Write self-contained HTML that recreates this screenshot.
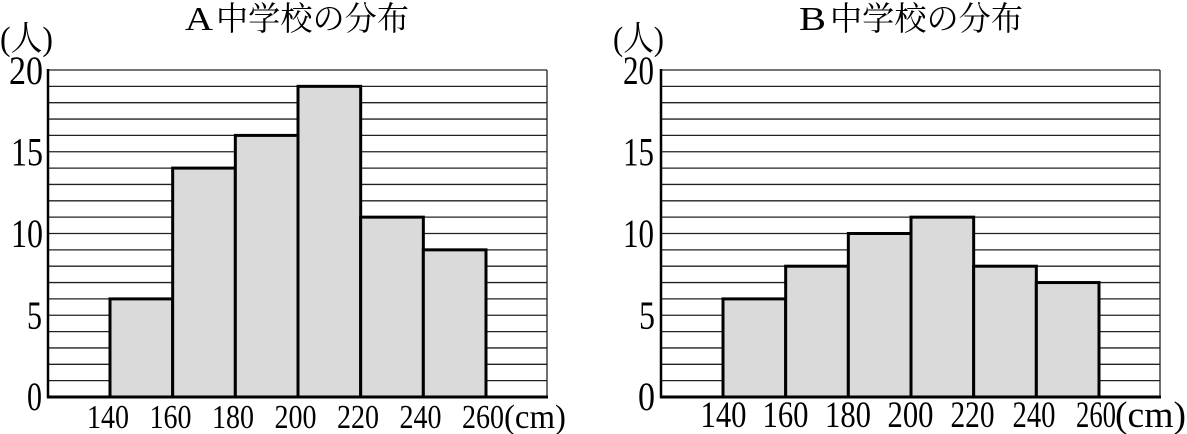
<!DOCTYPE html>
<html>
<head>
<meta charset="utf-8">
<style>
html,body{margin:0;padding:0;background:#fff;}
svg{display:block;}
</style>
</head>
<body>
<svg width="1187" height="434" viewBox="0 0 1187 434" xmlns="http://www.w3.org/2000/svg">
  <rect width="1187" height="434" fill="#fff"/>

  <!-- ===== Chart A ===== -->
  <g>
    <text x="185" y="30" font-family="Liberation Serif, serif" font-size="34" textLength="28" lengthAdjust="spacingAndGlyphs">A</text>
    <text x="216" y="30" font-family="Noto Serif CJK SC, Noto Sans CJK JP, serif" font-size="33" textLength="193" lengthAdjust="spacingAndGlyphs">中学校の分布</text>
    <text x="0" y="50" font-family="Liberation Serif, Noto Serif CJK SC, serif" font-size="34" textLength="53" lengthAdjust="spacingAndGlyphs">(人)</text>

    <g stroke="#222" stroke-width="1.3">
      <line x1="48" x2="547" y1="70" y2="70"/>
      <line x1="48" x2="547" y1="86.35" y2="86.35"/>
      <line x1="48" x2="547" y1="102.7" y2="102.7"/>
      <line x1="48" x2="547" y1="119.05" y2="119.05"/>
      <line x1="48" x2="547" y1="135.4" y2="135.4"/>
      <line x1="48" x2="547" y1="151.75" y2="151.75"/>
      <line x1="48" x2="547" y1="168.1" y2="168.1"/>
      <line x1="48" x2="547" y1="184.45" y2="184.45"/>
      <line x1="48" x2="547" y1="200.8" y2="200.8"/>
      <line x1="48" x2="547" y1="217.15" y2="217.15"/>
      <line x1="48" x2="547" y1="233.5" y2="233.5"/>
      <line x1="48" x2="547" y1="249.85" y2="249.85"/>
      <line x1="48" x2="547" y1="266.2" y2="266.2"/>
      <line x1="48" x2="547" y1="282.55" y2="282.55"/>
      <line x1="48" x2="547" y1="298.9" y2="298.9"/>
      <line x1="48" x2="547" y1="315.25" y2="315.25"/>
      <line x1="48" x2="547" y1="331.6" y2="331.6"/>
      <line x1="48" x2="547" y1="347.95" y2="347.95"/>
      <line x1="48" x2="547" y1="364.3" y2="364.3"/>
      <line x1="48" x2="547" y1="380.65" y2="380.65"/>
      <line x1="547" x2="547" y1="70" y2="397"/>
    </g>

    <g fill="#dadada" stroke="#000" stroke-width="3">
      <rect x="110" y="298.9" width="62.67" height="98.1"/>
      <rect x="172.67" y="168.1" width="62.67" height="228.9"/>
      <rect x="235.33" y="135.4" width="62.67" height="261.6"/>
      <rect x="298" y="86.35" width="62.67" height="310.65"/>
      <rect x="360.67" y="217.15" width="62.67" height="179.85"/>
      <rect x="423.33" y="249.85" width="62.67" height="147.15"/>
    </g>

    <line x1="48" x2="48" y1="69" y2="398" stroke="#000" stroke-width="2.5"/>
    <line x1="47" x2="548" y1="397" y2="397" stroke="#000" stroke-width="3"/>

    <g font-family="Liberation Serif, serif" font-size="40" text-anchor="end" fill="#000">
      <text x="43" y="84" textLength="34" lengthAdjust="spacingAndGlyphs">20</text>
      <text x="43" y="165.5" textLength="32" lengthAdjust="spacingAndGlyphs">15</text>
      <text x="43" y="247" textLength="32" lengthAdjust="spacingAndGlyphs">10</text>
      <text x="42" y="329" textLength="15" lengthAdjust="spacingAndGlyphs">5</text>
      <text x="42" y="410" textLength="15" lengthAdjust="spacingAndGlyphs">0</text>
    </g>

    <g font-family="Liberation Serif, serif" font-size="34" text-anchor="middle" fill="#000">
      <text x="108" y="428" textLength="42" lengthAdjust="spacingAndGlyphs">140</text>
      <text x="170.5" y="428" textLength="42" lengthAdjust="spacingAndGlyphs">160</text>
      <text x="233" y="428" textLength="42" lengthAdjust="spacingAndGlyphs">180</text>
      <text x="295.5" y="428" textLength="42" lengthAdjust="spacingAndGlyphs">200</text>
      <text x="358" y="428" textLength="42" lengthAdjust="spacingAndGlyphs">220</text>
      <text x="420.5" y="428" textLength="42" lengthAdjust="spacingAndGlyphs">240</text>
      <text x="483" y="428" textLength="42" lengthAdjust="spacingAndGlyphs">260</text>
    </g>
    <text x="504" y="428" font-family="Liberation Serif, serif" font-size="34" textLength="62" lengthAdjust="spacingAndGlyphs">(cm)</text>
  </g>

  <!-- ===== Chart B ===== -->
  <g>
    <text x="799" y="30" font-family="Liberation Serif, serif" font-size="34" textLength="27" lengthAdjust="spacingAndGlyphs">B</text>
    <text x="830" y="30" font-family="Noto Serif CJK SC, Noto Sans CJK JP, serif" font-size="33" textLength="193" lengthAdjust="spacingAndGlyphs">中学校の分布</text>
    <text x="613" y="50" font-family="Liberation Serif, Noto Serif CJK SC, serif" font-size="34" textLength="51" lengthAdjust="spacingAndGlyphs">(人)</text>

    <g stroke="#222" stroke-width="1.3">
      <line x1="661" x2="1160" y1="70" y2="70"/>
      <line x1="661" x2="1160" y1="86.35" y2="86.35"/>
      <line x1="661" x2="1160" y1="102.7" y2="102.7"/>
      <line x1="661" x2="1160" y1="119.05" y2="119.05"/>
      <line x1="661" x2="1160" y1="135.4" y2="135.4"/>
      <line x1="661" x2="1160" y1="151.75" y2="151.75"/>
      <line x1="661" x2="1160" y1="168.1" y2="168.1"/>
      <line x1="661" x2="1160" y1="184.45" y2="184.45"/>
      <line x1="661" x2="1160" y1="200.8" y2="200.8"/>
      <line x1="661" x2="1160" y1="217.15" y2="217.15"/>
      <line x1="661" x2="1160" y1="233.5" y2="233.5"/>
      <line x1="661" x2="1160" y1="249.85" y2="249.85"/>
      <line x1="661" x2="1160" y1="266.2" y2="266.2"/>
      <line x1="661" x2="1160" y1="282.55" y2="282.55"/>
      <line x1="661" x2="1160" y1="298.9" y2="298.9"/>
      <line x1="661" x2="1160" y1="315.25" y2="315.25"/>
      <line x1="661" x2="1160" y1="331.6" y2="331.6"/>
      <line x1="661" x2="1160" y1="347.95" y2="347.95"/>
      <line x1="661" x2="1160" y1="364.3" y2="364.3"/>
      <line x1="661" x2="1160" y1="380.65" y2="380.65"/>
      <line x1="1160" x2="1160" y1="70" y2="397"/>
    </g>

    <g fill="#dadada" stroke="#000" stroke-width="3">
      <rect x="723" y="298.9" width="62.67" height="98.1"/>
      <rect x="785.67" y="266.2" width="62.67" height="130.8"/>
      <rect x="848.33" y="233.5" width="62.67" height="163.5"/>
      <rect x="911" y="217.15" width="62.67" height="179.85"/>
      <rect x="973.67" y="266.2" width="62.67" height="130.8"/>
      <rect x="1036.33" y="282.55" width="62.67" height="114.45"/>
    </g>

    <line x1="661" x2="661" y1="69" y2="398" stroke="#000" stroke-width="2.5"/>
    <line x1="660" x2="1161" y1="397" y2="397" stroke="#000" stroke-width="3"/>

    <g font-family="Liberation Serif, serif" font-size="40" text-anchor="end" fill="#000">
      <text x="654" y="84" textLength="31" lengthAdjust="spacingAndGlyphs">20</text>
      <text x="654" y="165.5" textLength="31" lengthAdjust="spacingAndGlyphs">15</text>
      <text x="654" y="247" textLength="31" lengthAdjust="spacingAndGlyphs">10</text>
      <text x="655" y="329" textLength="16" lengthAdjust="spacingAndGlyphs">5</text>
      <text x="655" y="410" textLength="17" lengthAdjust="spacingAndGlyphs">0</text>
    </g>

    <g font-family="Liberation Serif, serif" font-size="37" text-anchor="middle" fill="#000">
      <text x="723.5" y="427" textLength="46" lengthAdjust="spacingAndGlyphs">140</text>
      <text x="785.5" y="427" textLength="46" lengthAdjust="spacingAndGlyphs">160</text>
      <text x="848" y="427" textLength="46" lengthAdjust="spacingAndGlyphs">180</text>
      <text x="910.5" y="427" textLength="46" lengthAdjust="spacingAndGlyphs">200</text>
      <text x="972.5" y="427" textLength="44" lengthAdjust="spacingAndGlyphs">220</text>
      <text x="1034" y="427" textLength="43" lengthAdjust="spacingAndGlyphs">240</text>
      <text x="1096" y="427" textLength="40" lengthAdjust="spacingAndGlyphs">260</text>
    </g>
    <text x="1115" y="427" font-family="Liberation Serif, serif" font-size="37" textLength="71" lengthAdjust="spacingAndGlyphs">(cm)</text>
  </g>
</svg>
</body>
</html>
